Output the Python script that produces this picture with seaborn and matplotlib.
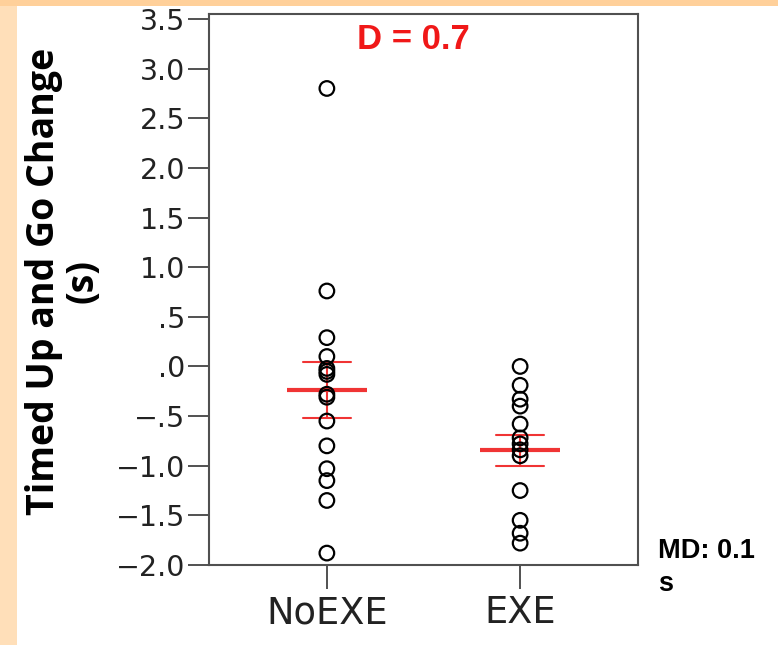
import numpy as np
import pandas as pd
import matplotlib
matplotlib.use('Agg')
import matplotlib.pyplot as plt
from matplotlib.patches import Rectangle
import seaborn as sns

# Dados
grupos = ['NoEXE', 'EXE']
valores_noexe = [2.80, 0.76, 0.29, 0.10, -0.02, -0.05, -0.08, -0.28, -0.31,
                 -0.55, -0.80, -1.03, -1.15, -1.35, -1.88]
valores_exe = [0.00, -0.19, -0.33, -0.40, -0.58, -0.72, -0.78, -0.84, -0.90,
               -1.25, -1.55, -1.68, -1.78]
ytick_vals = [3.5, 3.0, 2.5, 2.0, 1.5, 1.0, 0.5, 0.0, -0.5, -1.0, -1.5, -2.0]
ytick_labels = ['3.5', '3.0', '2.5', '2.0', '1.5', '1.0', '.5', '.0',
                '\u2212.5', '\u22121.0', '\u22121.5', '\u22122.0']

df = pd.DataFrame({
    'grupo': ['NoEXE'] * len(valores_noexe) + ['EXE'] * len(valores_exe),
    'valor': valores_noexe + valores_exe,
})

sns.set_style('white')
plt.rcParams['font.family'] = ['DejaVu Sans']
plt.rcParams['text.color'] = 'black'

fig = plt.figure(figsize=(7.78, 6.45), dpi=100)
fig.patch.set_facecolor('white')

# Bordas em tom pêssego
fig.add_artist(Rectangle((0, 0), 17 / 778, 1, transform=fig.transFigure,
                         facecolor='#FFDFB9', edgecolor='none', zorder=-1))
fig.add_artist(Rectangle((0, 1 - 6 / 645), 1, 6 / 645, transform=fig.transFigure,
                         facecolor='#FFD09A', edgecolor='none', zorder=-1))

ax = fig.add_axes([209 / 778, 1 - 565 / 645, 429 / 778, 551 / 645])

# Pontos individuais (círculos vazados)
sns.stripplot(data=df, x='grupo', y='valor', order=grupos, jitter=False,
              size=10.5, linewidth=1.6, edgecolor='black', color='white', ax=ax)
for coll in ax.collections:
    coll.set_facecolor('none')

# Média com erro padrão
sns.pointplot(data=df, x='grupo', y='valor', order=grupos, errorbar='se',
              capsize=0.25, color='#F03434', markers='_', linestyles='none',
              markersize=58, markeredgewidth=3.0,
              err_kws={'linewidth': 1.5}, ax=ax)

ax.set_xlim(-0.61, 1.61)
ax.set_ylim(-2.0, 3.55)
ax.set_yticks(ytick_vals)
ax.set_yticklabels(ytick_labels)
ax.set_xlabel('')
ax.set_ylabel('Timed Up and Go Change\n(s)', family='Open Sans',
              fontweight='bold', fontsize=27, linespacing=1.03, color='black')
ax.yaxis.set_label_coords(-0.25, 0.515)

ax.tick_params(axis='y', direction='out', length=15, width=1.1, pad=2,
               labelsize=20.5, left=True, colors='#222222')
ax.tick_params(axis='x', direction='out', length=17, width=1.1, pad=4,
               labelsize=26.5, bottom=True, colors='#222222')
for lado in ['left', 'bottom', 'top', 'right']:
    ax.spines[lado].set_visible(True)
    ax.spines[lado].set_color('#505050')
    ax.spines[lado].set_linewidth(1.5)

# Anotações
ax.text(0.4755, 0.953, 'D = 0.7', transform=ax.transAxes, ha='center',
        va='center', color='#F01818', fontsize=25, fontweight='bold',
        family='Liberation Sans')
fig.text(658 / 778, 1 - 538 / 645, 'MD: 0.1\ns', ha='left', va='top',
         fontsize=19.5, fontweight='bold', family='Liberation Sans',
         linespacing=1.35, color='black')

fig.savefig('out.png', dpi=100)
